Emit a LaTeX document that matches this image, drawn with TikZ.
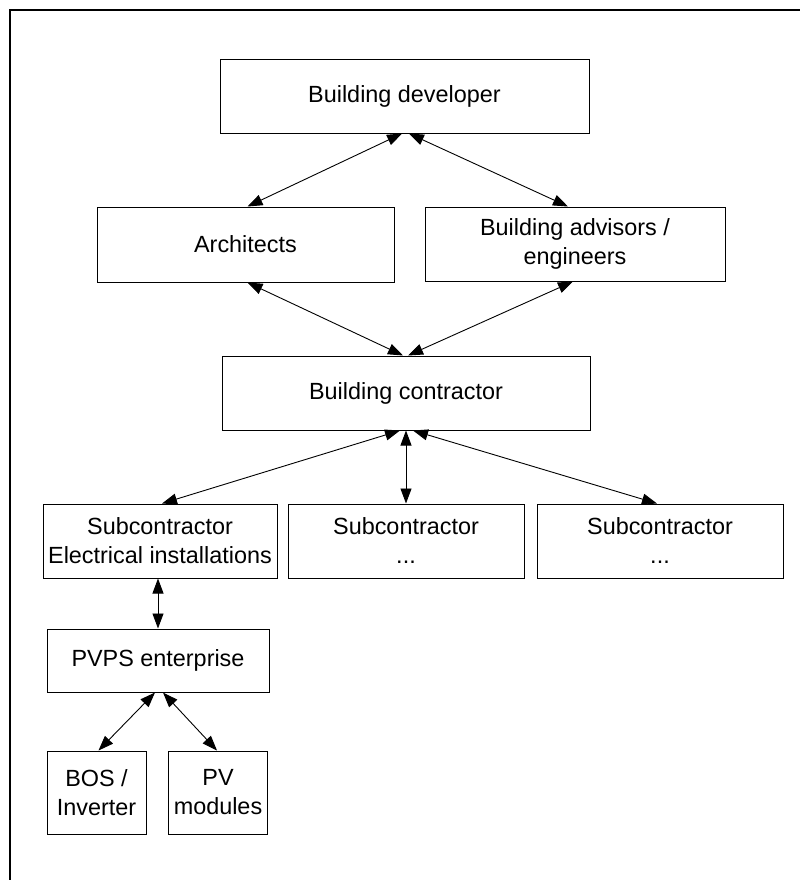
\documentclass[tikz,border=0pt]{standalone}
\usepackage{fontspec}
\setmainfont{Liberation Sans}
\usetikzlibrary{arrows.meta}

\begin{document}
\begin{tikzpicture}[x=0.5pt, y=-0.5pt,
    >={Triangle[length=7.5pt,width=5.5pt]},
    box/.style={draw, line width=0.5pt, inner sep=1pt, align=center,
                font=\fontsize{11.7}{14.5}\selectfont},
    link/.style={<->, line width=0.45pt}]
    \useasboundingbox (0,0) rectangle (800,880);
    \draw[line width=0.8pt] (10,880) -- (10,10) -- (800,10);

    \node[box, minimum width=184.5pt, minimum height=37pt]   (dev)  at (404.5,96)  {Building developer};
    \node[box, minimum width=148.5pt, minimum height=37.5pt] (arch) at (245.5,244.5) {Architects};
    \node[box, minimum width=150pt, minimum height=37pt]     (adv)  at (575,244)   {Building advisors /\\engineers};
    \node[box, minimum width=184pt, minimum height=37pt]     (cont) at (406,393)   {Building contractor};

    \node[box, minimum width=117pt, minimum height=37pt]     (subel) at (160,541)  {Subcontractor\\Electrical installations};
    \node[box, minimum width=118pt, minimum height=37pt]     (subb)  at (406,541)  {Subcontractor\\...};
    \node[box, minimum width=123pt, minimum height=37pt]     (subc)  at (660,541)  {Subcontractor\\...};

    \node[box, minimum width=111pt, minimum height=31.5pt]   (pvps) at (158,660.5) {PVPS enterprise};
    \node[box, minimum width=49.5pt, minimum height=41.5pt]  (bos)  at (96.5,792.5) {BOS /\\Inverter};
    \node[box, minimum width=49.5pt, minimum height=41.5pt]  (pvm)  at (218,792.5)  {PV\\modules};

    \draw[link] ([xshift=-1.2pt]dev.south)  -- ([xshift=1pt]arch.north);
    \draw[link] ([xshift=2.2pt]dev.south)   -- ([xshift=-3.5pt]adv.north);
    \draw[link] ([xshift=1pt]arch.south)    -- ([xshift=-1.5pt]cont.north);
    \draw[link] ([xshift=-1pt]adv.south)    -- ([xshift=1pt]cont.north);

    \draw[link] ([xshift=-3pt]cont.south)   -- ([xshift=1pt]subel.north);
    \draw[link] (cont.south)                -- (subb.north);
    \draw[link] ([xshift=3.5pt]cont.south)  -- ([xshift=-1.5pt]subc.north);

    \draw[link] (pvps.north |- subel.south) -- (pvps.north);
    \draw[link] ([xshift=-1.5pt]pvps.south) -- ([xshift=1pt]bos.north);
    \draw[link] ([xshift=2.5pt]pvps.south)  -- ([xshift=-0.5pt]pvm.north);

\end{tikzpicture}
\end{document}
